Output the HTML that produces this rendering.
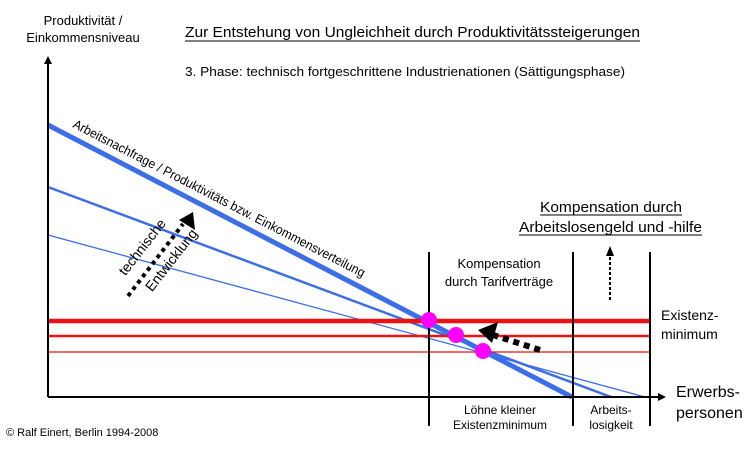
<!DOCTYPE html>
<html><head><meta charset="utf-8"><style>
body{margin:0;background:#fff}
svg{display:block;font-family:"Liberation Sans",sans-serif}
</style></head><body>
<svg width="750" height="450" viewBox="0 0 750 450">
<defs>
<marker id="ah" markerWidth="8" markerHeight="8" refX="6" refY="4" orient="auto" markerUnits="userSpaceOnUse"><path d="M0,0 L8,4 L0,8 Z" fill="#000"/></marker>
</defs>
<text x="83" y="25" font-size="13" text-anchor="middle">Produktivität /</text>
<text x="83" y="42" font-size="13" text-anchor="middle">Einkommensniveau</text>
<text x="185" y="37" font-size="15" textLength="455" lengthAdjust="spacingAndGlyphs">Zur Entstehung von Ungleichheit durch Produktivitätssteigerungen</text>
<line x1="185" y1="41" x2="640" y2="41" stroke="#000" stroke-width="1"/>
<text x="185" y="76" font-size="13" textLength="440" lengthAdjust="spacingAndGlyphs">3. Phase: technisch fortgeschrittene Industrienationen (Sättigungsphase)</text>
<text x="540" y="212" font-size="15" textLength="142" lengthAdjust="spacingAndGlyphs">Kompensation durch</text>
<text x="519" y="232" font-size="15" textLength="183" lengthAdjust="spacingAndGlyphs">Arbeitslosengeld und -hilfe</text>
<line x1="540" y1="215" x2="682" y2="215" stroke="#000"/>
<line x1="519" y1="235" x2="702" y2="235" stroke="#000"/>
<text x="499" y="268" font-size="13" text-anchor="middle">Kompensation</text>
<text x="499" y="286" font-size="13" text-anchor="middle">durch Tarifverträge</text>
<text x="661" y="320" font-size="14">Existenz-</text>
<text x="661" y="339" font-size="14">minimum</text>
<text x="676" y="397" font-size="16">Erwerbs-</text>
<text x="676" y="418" font-size="16">personen</text>
<text x="500" y="414" font-size="12" text-anchor="middle">Löhne kleiner</text>
<text x="500" y="429" font-size="12" text-anchor="middle">Existenzminimum</text>
<text x="611" y="414" font-size="12" text-anchor="middle">Arbeits-</text>
<text x="611" y="429" font-size="12" text-anchor="middle">losigkeit</text>
<text x="6" y="436" font-size="11">© Ralf Einert, Berlin 1994-2008</text>
<line x1="48" y1="235" x2="645" y2="397" stroke="#3c6ee8" stroke-width="1.3"/>
<line x1="48" y1="187" x2="611" y2="397" stroke="#3c6ee8" stroke-width="2.5"/>
<line x1="48" y1="125" x2="572" y2="397" stroke="#3c6ee8" stroke-width="5"/>
<line x1="48" y1="321" x2="650" y2="321" stroke="#ee1111" stroke-width="4.5"/>
<line x1="48" y1="336" x2="650" y2="336" stroke="#ee1111" stroke-width="2.5"/>
<line x1="48" y1="352" x2="650" y2="352" stroke="#ee1111" stroke-width="1.2"/>
<line x1="429" y1="252" x2="429" y2="426" stroke="#000" stroke-width="2"/>
<line x1="573" y1="252" x2="573" y2="426" stroke="#000" stroke-width="2"/>
<line x1="650" y1="252" x2="650" y2="426" stroke="#000" stroke-width="2"/>
<line x1="48" y1="397" x2="48" y2="58" stroke="#000" stroke-width="2" marker-end="url(#ah)"/>
<line x1="48" y1="397" x2="664" y2="397" stroke="#000" stroke-width="2" marker-end="url(#ah)"/>
<circle cx="429" cy="320" r="8" fill="#f0f"/>
<circle cx="456" cy="335" r="8" fill="#f0f"/>
<circle cx="483" cy="351" r="8" fill="#f0f"/>
<line x1="610" y1="300" x2="610" y2="254" stroke="#000" stroke-width="2" stroke-dasharray="3,2"/>
<path d="M606,256 L610,246 L614,256 Z"/>
<line x1="540" y1="350" x2="490" y2="334" stroke="#000" stroke-width="6" stroke-dasharray="6,5"/>
<path d="M478,330 L498,322 L492,343 Z"/>
<line x1="128" y1="296" x2="183" y2="224" stroke="#000" stroke-width="4" stroke-dasharray="4,4"/>
<path d="M193,212 L195,230 L179,220 Z"/>
<text font-size="13" transform="translate(72,127) rotate(27.4)" textLength="327" lengthAdjust="spacingAndGlyphs">Arbeitsnachfrage / Produktivitäts bzw. Einkommensverteilung</text>
<text font-size="14" text-anchor="middle" transform="translate(146,250) rotate(-52)">technische</text>
<text font-size="14" text-anchor="middle" transform="translate(175,263) rotate(-52)">Entwicklung</text>
</svg>
</body></html>
